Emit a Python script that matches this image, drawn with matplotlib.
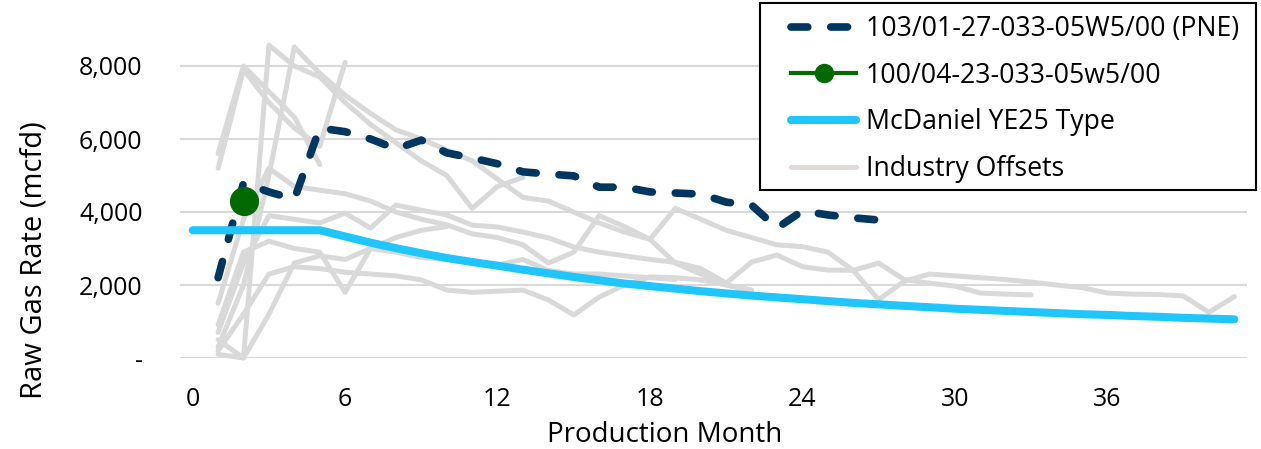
import numpy as np
import matplotlib
matplotlib.use('Agg')
import matplotlib.pyplot as plt
from matplotlib.patches import Rectangle
from matplotlib.ticker import FuncFormatter

plt.rcParams['font.family'] = ['Open Sans', 'DejaVu Sans']

# PNE well, months 1..27
pne_months = list(range(1, 28))
pne_rate = [2200, 4800, 4550, 4350, 6300, 6200, 6000, 5730, 5970, 5620, 5480, 5320,
            5100, 5040, 4990, 4680, 4680, 4550, 4520, 4490, 4270, 4190, 3560, 4030,
            3920, 3840, 3780]

# second well, one point
green_months = [2]
green_rate = [4300]

# McDaniel type curve, months 0..41
type_months = list(range(0, 42))
type_rate = [3500, 3500, 3500, 3500, 3500, 3500, 3330, 3160, 3010, 2870, 2740, 2630,
             2530, 2420, 2320, 2220, 2130, 2040, 1970, 1900, 1830, 1770, 1710, 1660,
             1610, 1560, 1510, 1470, 1430, 1390, 1350, 1320, 1290, 1260, 1230, 1200,
             1180, 1150, 1130, 1100, 1080, 1060]

# industry offsets (all start at month 1)
off_a = [1500, 3800, 5200, 4700, 4600, 4500, 4300, 4000, 3800, 3650, 3400, 3300, 3100,
         2600, 2900, 3900, 3600, 3250, 4100, 3800, 3500, 3300, 3100, 3050, 2900, 2400,
         1600, 2100, 2300, 2250, 2200, 2150, 2080, 2000, 1930, 1780, 1750, 1740, 1700,
         1250, 1680]
off_b = [700, 2600, 3900, 3800, 3700, 3970, 3560, 4190, 4050, 3920, 3640, 3590, 3450,
         3290, 3040, 2900, 2800, 2700, 2620, 2450, 2050, 2630, 2820, 2500, 2410, 2400,
         2600, 2150, 2050, 1970, 1780, 1750, 1730]
off_c = [500, 0, 8570, 8000, 7700, 7000, 6400, 5900, 5400, 5000, 4100, 4700, 4950]
off_d = [300, 2000, 5000, 8520, 7800, 7200, 6700, 6250, 6000, 5700, 5400, 4900, 4400,
         4300, 4000, 3700, 3450, 3250, 2600, 2300, 2000, 1850]
off_e = [5600, 8000, 7300, 6600, 5300]
off_f = [5200, 7900, 7000, 6300, 5800, 8100]
off_g = [200, 1200, 2300, 2500, 2450, 2350, 2300, 2250, 2140, 1860, 1800, 1830, 1860,
         1590, 1180, 1670, 2000, 2220, 2200, 2140, 2000, 1860]
off_h = [900, 2900, 3200, 3000, 2900, 1800, 3000, 2900, 2750, 2700, 2600, 2550, 2700,
         2400, 2300, 2300, 2250, 2200, 2150]
off_i = [100, 0, 1200, 2600, 2800, 2700, 3000, 3300, 3500, 3600]
offsets = [off_a, off_b, off_c, off_d, off_e, off_f, off_g, off_h, off_i]

W, H = 1261, 449
fig = plt.figure(figsize=(W / 100, H / 100), dpi=100)
ax = fig.add_axes([180 / W, 91 / H, 1067 / W, 328.5 / H])

gray = '#d9d9d9'
for vals in offsets:
    m = np.arange(1, len(vals) + 1)
    ax.plot(m, vals, color=gray, lw=3.6, solid_capstyle='round',
            solid_joinstyle='round', clip_on=False, zorder=2)
# proxy handle for the legend entry (pinkish grey in the source)
offs_handle, = ax.plot([], [], color='#e2d9d9', lw=3.6, solid_capstyle='round',
                       label='Industry Offsets')

pne_line, = ax.plot(pne_months, pne_rate, color='#00365f', lw=5.5,
                    dashes=(2.2, 3.0), dash_capstyle='round', zorder=3,
                    label='103/01-27-033-05W5/00 (PNE)')
type_line, = ax.plot(type_months, type_rate, color='#20c5fc', lw=5.8,
                     solid_capstyle='round', zorder=4, label='McDaniel YE25 Type')
green_line, = ax.plot(green_months, green_rate, color='#036a03', lw=3,
                      marker='o', markersize=20, zorder=5,
                      label='100/04-23-033-05w5/00')

ax.set_xlim(-0.5, 41.5)
ax.set_ylim(0, 9000)
ax.set_xticks(range(0, 42, 6))
ax.set_yticks(range(0, 9000, 2000))
ax.yaxis.set_major_formatter(FuncFormatter(lambda v, p: '-' if v == 0 else f'{v:,.0f}'))
ax.grid(axis='y', color='#d9d9d9', lw=1.5, zorder=0)
ax.set_axisbelow(True)
for s in ax.spines.values():
    s.set_visible(False)
ax.tick_params(length=0, labelsize=18, colors='black')
ax.tick_params(axis='x', pad=21)
ax.tick_params(axis='y', pad=27)

ax.set_xlabel('Production Month', fontsize=20)
ax.xaxis.set_label_coords(0.4545, -0.192)
ax.set_ylabel('Raw Gas Rate (mcfd)', fontsize=21)
ax.yaxis.set_label_coords(-0.123, 0.298)

# legend box drawn separately so its padding can match the source
box = Rectangle((760 / W, 1 - 190 / H), 496 / W, 187 / H, transform=fig.transFigure,
                facecolor='white', edgecolor='black', lw=1.5, zorder=10)
fig.add_artist(box)
leg = fig.legend(handles=[pne_line, green_line, type_line, offs_handle],
                 loc='upper left', bbox_to_anchor=(791 / W, 1 - 15 / H),
                 fontsize=19.2, frameon=False,
                 handlelength=2.44, handletextpad=0.375, labelspacing=0.70,
                 markerscale=0.65, borderpad=0, borderaxespad=0)
leg.set_zorder(11)

fig.savefig('out.png', dpi=100)
